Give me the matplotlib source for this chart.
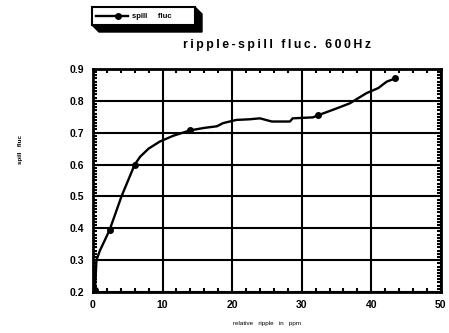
import matplotlib.pyplot as plt
from matplotlib.ticker import MultipleLocator
from matplotlib.patches import Rectangle, Polygon
from matplotlib.lines import Line2D

# data
ripple = [0.3, 0.5, 1.0, 2.4, 4.1, 6.0, 6.8, 8.0, 9.6, 11.5, 13.9, 16.0, 17.8,
          18.7, 20.6, 22.5, 24.0, 25.7, 28.3, 28.7, 31.6, 32.4, 35.0, 36.9,
          39.3, 41.0, 42.2, 43.4]
spill = [0.205, 0.30, 0.33, 0.395, 0.50, 0.60, 0.625, 0.65, 0.672, 0.69, 0.707,
         0.715, 0.72, 0.73, 0.74, 0.742, 0.745, 0.735, 0.735, 0.745, 0.748,
         0.755, 0.776, 0.792, 0.824, 0.84, 0.86, 0.87]
marker_idx = [0, 3, 5, 10, 21, 27]

plt.rcParams['font.family'] = ['Liberation Sans', 'DejaVu Sans']
plt.rcParams['font.weight'] = 'bold'

fig = plt.figure(figsize=(4.49, 3.33), dpi=100)
ax = fig.add_axes([0.207, 0.123, 0.775, 0.670])

ax.plot(ripple, spill, color='black', lw=1.7, marker='o', ms=4,
        markevery=marker_idx, zorder=3)

ax.set_xlim(0, 50)
ax.set_ylim(0.2, 0.9)
ax.xaxis.set_major_locator(MultipleLocator(10))
ax.xaxis.set_minor_locator(MultipleLocator(2))
ax.yaxis.set_major_locator(MultipleLocator(0.1))
ax.yaxis.set_minor_locator(MultipleLocator(0.01))
ax.yaxis.set_major_formatter(plt.FuncFormatter(lambda v, p: f"{v:.1f}"))

ax.grid(True, which='major', color='black', lw=1.5)
ax.tick_params(which='both', direction='in', top=True, right=True,
               labelsize=7.5, width=1.5, color='black')
ax.tick_params(which='major', length=0, pad=6)
ax.tick_params(which='minor', length=3)
for s in ax.spines.values():
    s.set_linewidth(2)

ax.set_xlabel('relative   ripple   in   ppm', fontsize=4.5, labelpad=8)
fig.text(0.045, 0.55, 'spill   fluc', rotation=90, fontsize=4.5,
         ha='center', va='center')

title = '\u2009'.join('ripple-spill fluc. 600Hz')
fig.text(0.617, 0.865, title, fontsize=8.8, ha='center', va='center')

# legend box with black drop shadow
x0, y0, w, h = 92 / 449, 1 - 25 / 333, 103 / 449, 18 / 333
d = 7 / 449
dy = 7 / 333
fig.patches.append(Polygon([(x0 + w, y0 + h), (x0 + w + d, y0 + h - dy),
                            (x0 + w + d, y0 - dy), (x0 + d, y0 - dy),
                            (x0, y0)], closed=True, facecolor='black',
                           edgecolor='black', transform=fig.transFigure))
fig.patches.append(Rectangle((x0, y0), w, h, facecolor='white', edgecolor='black',
                             lw=1.5, transform=fig.transFigure))
ly = y0 + h / 2
fig.lines.append(Line2D([x0 + 0.01, x0 + 0.08], [ly, ly], color='black', lw=1.7,
                        transform=fig.transFigure))
fig.lines.append(Line2D([x0 + 0.057], [ly], color='black', marker='o', ms=4,
                        transform=fig.transFigure))
fig.text(x0 + 0.09, ly, 'spill     fluc', fontsize=5.5, va='center')

fig.savefig('out.png', dpi=100)
